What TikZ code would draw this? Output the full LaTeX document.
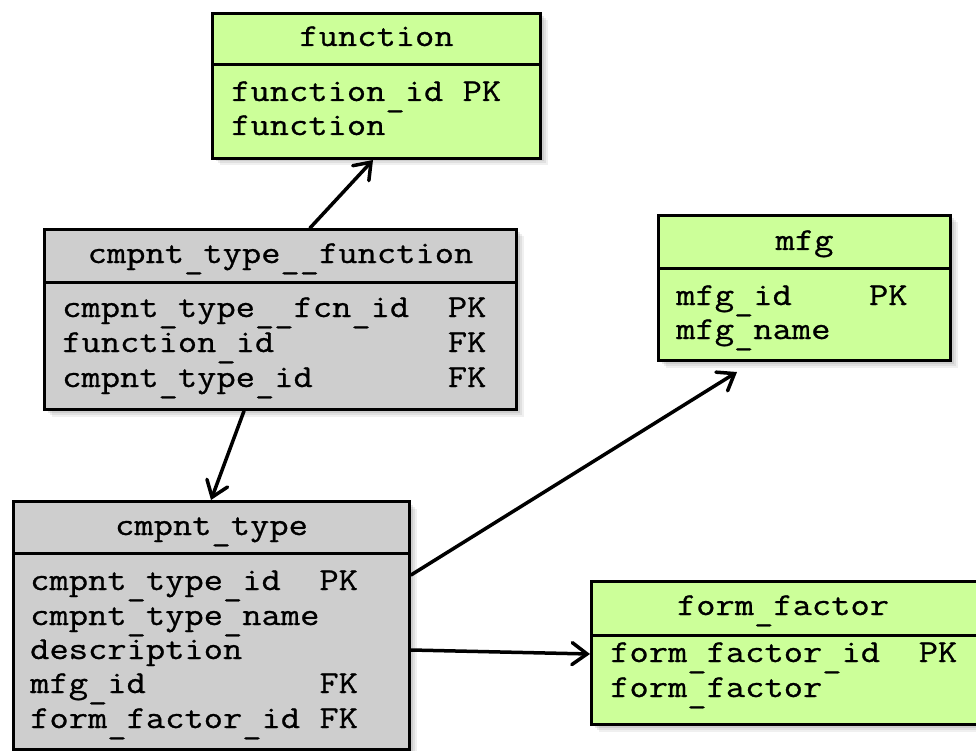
\documentclass[tikz,border=0pt]{standalone}
\usepackage{fontspec}
\newfontfamily\tblfont{Latin Modern Mono}[FakeStretch=1.17, FakeBold=0.8]
\usetikzlibrary{arrows.meta,shadows}
\definecolor{tblgreen}{RGB}{204,255,153}
\definecolor{tblgray}{RGB}{206,206,206}
% low-set underscore, as in the column names
\newcommand\usc{\raisebox{-5pt}{\_}}
\tikzset{
  softshadow/.style={
    drop shadow={opacity=0.12, shadow xshift=7pt, shadow yshift=-7pt},
    drop shadow={opacity=0.14, shadow xshift=5pt, shadow yshift=-5pt},
    drop shadow={opacity=0.18, shadow xshift=3pt, shadow yshift=-3pt}},
  tbl/.style={draw=black, line width=3pt, anchor=north west, inner sep=0pt, softshadow},
  divider/.style={draw=black, line width=3pt},
  hdr/.style={anchor=base, inner sep=0pt, font=\tblfont\fontsize{32pt}{35pt}\selectfont},
  row/.style={anchor=base west, inner sep=0pt, font=\tblfont\fontsize{32pt}{35pt}\selectfont},
  rel/.style={draw=black, line width=3.5pt, line cap=round,
    -{Straight Barb[length=15pt,width=22pt,line cap=round]}}
}
\begin{document}
\begin{tikzpicture}[x=1pt,y=-1pt]
\useasboundingbox (0,0) rectangle (976,751);
\clip (0,0) rectangle (976,751);

% table: function
\node[tbl, fill=tblgreen, minimum width=328pt, minimum height=145pt] (fn) at (211,12) {};
\draw[divider] (fn.west |- 0,65) -- (fn.east |- 0,65);
\node[hdr] (fnh) at (fn.north |- 0,46) {function};
\node[row] (fnr1) at (231,101) {function\usc id PK};
\node[row] (fnr2) at (231,135) {function};

% table: cmpnt_type__function
\node[tbl, fill=tblgray, minimum width=472pt, minimum height=180pt] (ctf) at (43,228) {};
\draw[divider] (ctf.west |- 0,282) -- (ctf.east |- 0,282);
\node[hdr] (ctfh) at (ctf.north |- 0,263) {cmpnt\usc type\usc\usc function};
\node[row] (ctfr1) at (62,317) {cmpnt\usc type\usc\usc fcn\usc id~~PK};
\node[row] (ctfr2) at (62,352) {function\usc id~~~~~~~~~FK};
\node[row] (ctfr3) at (62,387) {cmpnt\usc type\usc id~~~~~~~FK};

% table: mfg
\node[tbl, fill=tblgreen, minimum width=292pt, minimum height=145pt] (mfg) at (657,214) {};
\draw[divider] (mfg.west |- 0,268) -- (mfg.east |- 0,268);
\node[hdr] (mfgh) at (mfg.north |- 0,250) {mfg};
\node[row] (mfgr1) at (676,305) {mfg\usc id~~~~PK};
\node[row] (mfgr2) at (676,339) {mfg\usc name};

% table: cmpnt_type
\node[tbl, fill=tblgray, minimum width=396pt, minimum height=248pt] (ct) at (12,500) {};
\draw[divider] (ct.west |- 0,553) -- (ct.east |- 0,553);
\node[hdr] (cth) at (ct.north |- 0,535) {cmpnt\usc type};
\node[row] (ctr1) at (30,590) {cmpnt\usc type\usc id~~PK};
\node[row] (ctr2) at (30,625) {cmpnt\usc type\usc name};
\node[row] (ctr3) at (30,659) {description};
\node[row] (ctr4) at (30,693) {mfg\usc id~~~~~~~~~FK};
\node[row] (ctr5) at (30,728) {form\usc factor\usc id FK};

% table: form_factor
\node[tbl, fill=tblgreen, minimum width=400pt, minimum height=143pt] (ff) at (590,580) {};
\draw[divider] (ff.west |- 0,635) -- (ff.east |- 0,635);
\node[hdr] (ffh) at (783,615) {form\usc factor};
\node[row] (ffr1) at (610,662) {form\usc factor\usc id~~PK};
\node[row] (ffr2) at (610,697) {form\usc factor};

% relationships
\coordinate (mfgin) at ([xshift=80pt,yshift=-10pt]mfg.south west);
\draw[rel] ([xshift=267pt]ctf.north west) -- ([xshift=162pt]fn.south west);
\draw[rel] ([xshift=201pt]ctf.south west) -- ([xshift=199pt]ct.north west);
\draw[rel] ([yshift=-75pt]ct.north east) -- (mfgin);
\draw[rel] ([yshift=-150pt]ct.north east) -- ([yshift=-74pt]ff.north west);
\end{tikzpicture}
\end{document}
